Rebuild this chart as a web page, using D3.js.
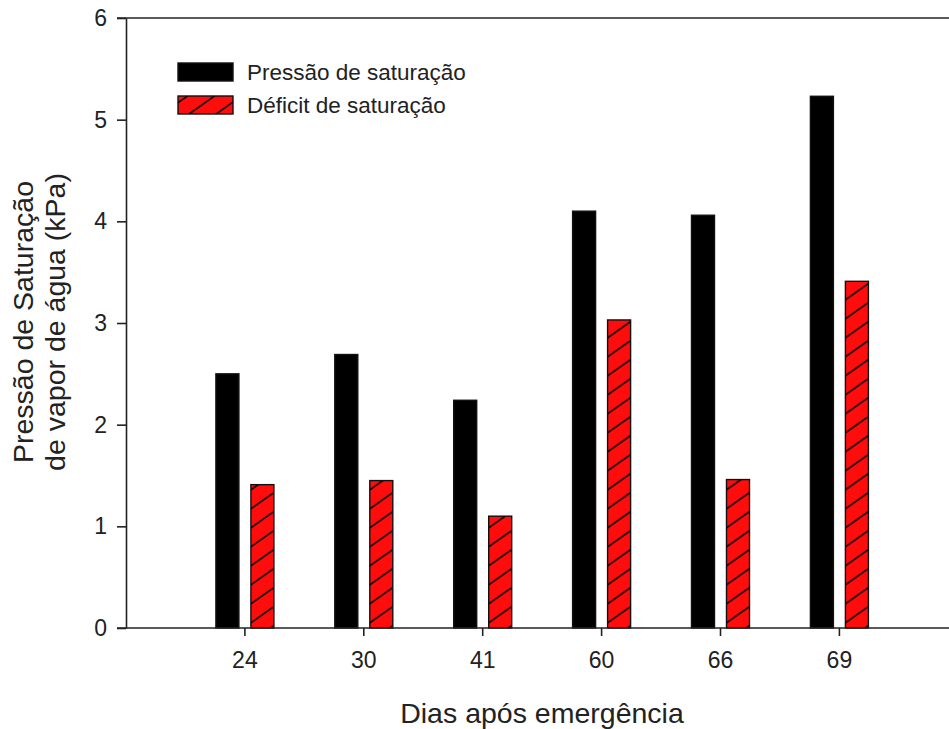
<!DOCTYPE html>
<html>
<head>
<meta charset="utf-8">
<script src="https://cdn.jsdelivr.net/npm/d3@7"></script>
<style>
  html, body { margin: 0; padding: 0; background: #fff; }
  svg { display: block; font-family: Arial, "Liberation Sans", sans-serif; }
</style>
</head>
<body>
<svg id="chart" width="949" height="729"></svg>
<script>
// Days after emergence and the two measured series (kPa)
const categories = ["24", "30", "41", "60", "66", "69"];
const seriesNames = ["Pressão de saturação", "Déficit de saturação"];
const pressaoSaturacao = [2.50, 2.69, 2.24, 4.10, 4.06, 5.23];
const deficitSaturacao = [1.41, 1.45, 1.10, 3.03, 1.46, 3.41];
const yTicks = [0, 1, 2, 3, 4, 5, 6];

const W = 949, H = 729;
const plotLeft = 126, plotTop = 18, plotBottom = 628;
const step = 118.9;

const svg = d3.select("#chart");

// hatch pattern for the deficit bars
const defs = svg.append("defs");
const pat = defs.append("pattern")
  .attr("id", "hatch")
  .attr("patternUnits", "userSpaceOnUse")
  .attr("width", 27).attr("height", 19);
pat.append("rect").attr("width", 27).attr("height", 19).attr("fill", "#ff0d0d");
pat.append("path")
  .attr("d", "M0,19 L27,0 M-2,1.4 L2,-1.4 M25,20.4 L29,17.6")
  .attr("stroke", "#1a0000").attr("stroke-width", 1.8);

const y = d3.scaleLinear().domain([0, 6]).range([plotBottom, plotTop]);

const x0 = d3.scaleBand()
  .domain(categories)
  .range([plotLeft + step / 2, plotLeft + step / 2 + step * categories.length])
  .paddingInner(0).paddingOuter(0);

const x1 = d3.scaleBand()
  .domain(seriesNames)
  .range([-29, 29])
  .paddingInner(12 / 35).paddingOuter(0);

const rows = categories.map((c, i) => ({
  cat: c,
  vals: [
    { key: seriesNames[0], v: pressaoSaturacao[i] },
    { key: seriesNames[1], v: deficitSaturacao[i] }
  ]
}));

// bars
const groups = svg.append("g").selectAll("g")
  .data(rows).join("g")
  .attr("transform", d => `translate(${x0(d.cat) + x0.bandwidth() / 2},0)`);

groups.selectAll("rect")
  .data(d => d.vals).join("rect")
  .attr("x", d => x1(d.key))
  .attr("width", x1.bandwidth())
  .attr("y", d => y(d.v))
  .attr("height", d => y(0) - y(d.v))
  .attr("fill", d => d.key === seriesNames[0] ? "#000" : "url(#hatch)")
  .attr("stroke", "#111")
  .attr("stroke-width", 1.4);

// frame lines: top and bottom run across the full width
svg.append("line")
  .attr("x1", 117).attr("x2", W).attr("y1", plotTop).attr("y2", plotTop)
  .attr("stroke", "#222").attr("stroke-width", 1.6);
svg.append("line")
  .attr("x1", 117).attr("x2", W).attr("y1", plotBottom).attr("y2", plotBottom)
  .attr("stroke", "#222").attr("stroke-width", 1.6);

// y axis
const yAxis = svg.append("g")
  .attr("transform", `translate(${plotLeft},0)`)
  .call(d3.axisLeft(y).tickValues(yTicks).tickFormat(d3.format("d"))
    .tickSize(9).tickSizeOuter(0).tickPadding(10));
yAxis.selectAll("path, line").attr("stroke", "#222").attr("stroke-width", 1.6);
yAxis.selectAll("text").attr("font-size", 23).attr("fill", "#222")
  .attr("font-family", "Arial, 'Liberation Sans', sans-serif");

// x axis
const xAxis = svg.append("g")
  .attr("transform", `translate(0,${plotBottom})`)
  .call(d3.axisBottom(x0).tickSize(8).tickSizeOuter(0).tickPadding(16));
xAxis.select(".domain").remove();
xAxis.selectAll("line").attr("stroke", "#222").attr("stroke-width", 1.6);
xAxis.selectAll("text").attr("font-size", 23).attr("fill", "#222")
  .attr("font-family", "Arial, 'Liberation Sans', sans-serif");

// axis titles
svg.append("text")
  .attr("x", 542).attr("y", 723)
  .attr("text-anchor", "middle")
  .attr("font-size", 28.5).attr("fill", "#222")
  .text("Dias após emergência");

const yTitle = svg.append("text")
  .attr("transform", "translate(0,322) rotate(-90)")
  .attr("text-anchor", "middle")
  .attr("font-size", 28.5).attr("fill", "#222");
yTitle.append("tspan").attr("x", 0).attr("y", 33).text("Pressão de Saturação");
yTitle.append("tspan").attr("x", 0).attr("y", 65).text("de vapor de água (kPa)");

// legend
const legend = svg.append("g");
const legendRows = [
  { key: seriesNames[0], fill: "#000", y: 63 },
  { key: seriesNames[1], fill: "url(#hatch)", y: 96 }
];
legend.selectAll("rect").data(legendRows).join("rect")
  .attr("x", 178).attr("y", d => d.y)
  .attr("width", 55).attr("height", 18)
  .attr("fill", d => d.fill)
  .attr("stroke", "#111").attr("stroke-width", 1.4);
legend.selectAll("text").data(legendRows).join("text")
  .attr("x", 247).attr("y", d => d.y + 17)
  .attr("font-size", 22.5).attr("fill", "#222")
  .text(d => d.key);
</script>
</body>
</html>
